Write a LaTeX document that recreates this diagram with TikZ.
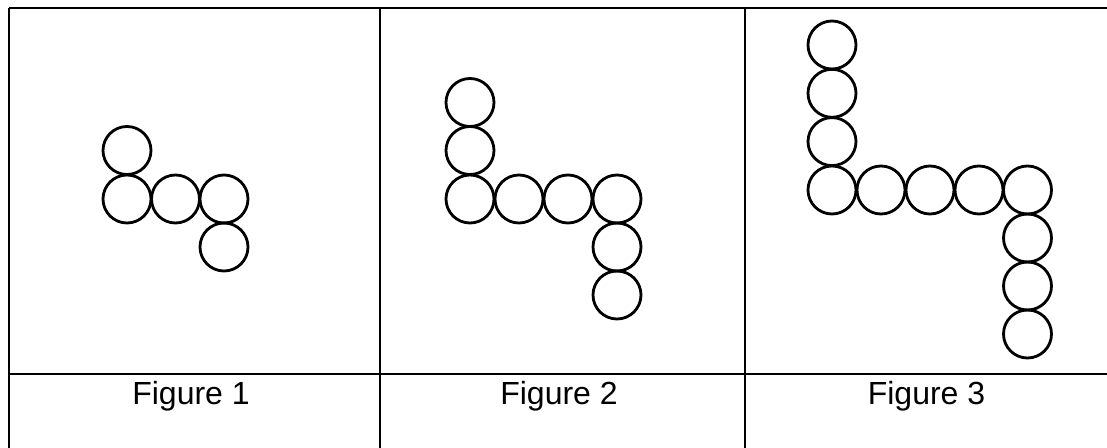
\documentclass[tikz,border=0pt]{standalone}
\usepackage{fontspec}
\setmainfont{Liberation Sans}
\begin{document}
\begin{tikzpicture}[x=0.75pt,y=-0.75pt,
  rule/.style={line width=1.6pt,black},
  bead/.style={circle,draw=black,line width=2.1pt,inner sep=0pt,minimum size=36pt},
  caption/.style={anchor=base,inner sep=0pt,font=\fontsize{24}{27}\selectfont}]
\useasboundingbox (0,0) rectangle (1107,448);

% table grid
\coordinate (tl) at (9,8);
\coordinate (tr) at (1107,8);
\coordinate (ml) at (9,374);
\coordinate (mr) at (1107,374);
\draw[rule] (tl) -- (tr);
\draw[rule] (ml) -- (mr);
\draw[rule] (9,8) -- (9,448);
\draw[rule] (380,8) -- (380,448);
\draw[rule] (745,8) -- (745,448);

% Figure 1
\node[bead] (a1) at (127,150.5) {};
\node[bead] (a2) at (127,199) {};
\node[bead] (a3) at (175.5,199) {};
\node[bead] (a4) at (224,199) {};
\node[bead] (a5) at (224,247) {};

% Figure 2
\node[bead] (b1) at (470,102.5) {};
\node[bead] (b2) at (470,150.5) {};
\node[bead] (b3) at (470,199) {};
\node[bead] (b4) at (519,199) {};
\node[bead] (b5) at (568,199) {};
\node[bead] (b6) at (617,199) {};
\node[bead] (b7) at (617,247) {};
\node[bead] (b8) at (617,295) {};

% Figure 3
\node[bead] (c1) at (832,45) {};
\node[bead] (c2) at (832,93.3) {};
\node[bead] (c3) at (832,141.6) {};
\node[bead] (c4) at (832,190) {};
\node[bead] (c5) at (881,190) {};
\node[bead] (c6) at (930,190) {};
\node[bead] (c7) at (979,190) {};
\node[bead] (c8) at (1027.5,190) {};
\node[bead] (c9) at (1027.5,238) {};
\node[bead] (c10) at (1027.5,286) {};
\node[bead] (c11) at (1027.5,334) {};

% captions
\node[caption] (f1) at (191,405) {Figure 1};
\node[caption] (f2) at (559,405) {Figure 2};
\node[caption] (f3) at (926.5,405) {Figure 3};
\end{tikzpicture}
\end{document}
